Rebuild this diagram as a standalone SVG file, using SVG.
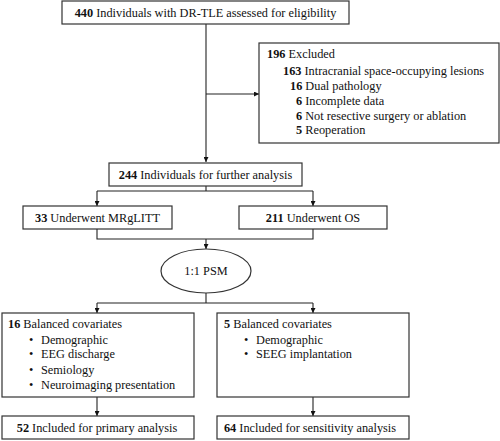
<svg xmlns="http://www.w3.org/2000/svg" width="500" height="441" viewBox="0 0 500 441">
<defs>
<marker id="ah" viewBox="0 0 10 10" refX="10" refY="5" markerWidth="5" markerHeight="5" markerUnits="userSpaceOnUse" orient="auto">
<path d="M0,0 L10,5 L0,10 Z" fill="#111"/>
</marker>
<style>
.box{fill:#fff;stroke:#333;stroke-width:1.2}
.ln{fill:none;stroke:#222;stroke-width:1.1}
text{font-family:"Liberation Serif",serif;font-size:12.3px;fill:#111}
.b{font-weight:bold}
.c{text-anchor:middle}
</style>
</defs>
<rect width="500" height="441" fill="#fff"/>
<g id="connectors">
<path class="ln" d="M206,24 V162" marker-end="url(#ah)"/>
<path class="ln" d="M206,94 H259" marker-end="url(#ah)"/>
<path class="ln" d="M206,186 V191 M97,191 H313"/>
<path class="ln" d="M97,191 V206" marker-end="url(#ah)"/>
<path class="ln" d="M313,191 V206" marker-end="url(#ah)"/>
<path class="ln" d="M97,229 V239 H313 V229"/>
<path class="ln" d="M206,239 V249" marker-end="url(#ah)"/>
<path class="ln" d="M206,293 V303 M97,303 H313"/>
<path class="ln" d="M97,303 V313" marker-end="url(#ah)"/>
<path class="ln" d="M313,303 V313" marker-end="url(#ah)"/>
<path class="ln" d="M97,397 V416" marker-end="url(#ah)"/>
<path class="ln" d="M313,397 V416" marker-end="url(#ah)"/>
</g>
<g id="n-assessed">
<rect class="box" x="62" y="1" width="287" height="23"/>
<text x="205.5" y="17" class="c"><tspan class="b">440</tspan> Individuals with DR-TLE assessed for eligibility</text>
</g>
<g id="n-excluded">
<rect class="box" x="259" y="43" width="240" height="100"/>
<text x="267" y="58"><tspan class="b">196</tspan> Excluded</text>
<text x="283" y="75"><tspan class="b">163</tspan> Intracranial space-occupying lesions</text>
<text x="290" y="90"><tspan class="b">16</tspan> Dual pathology</text>
<text x="296" y="105"><tspan class="b">6</tspan> Incomplete data</text>
<text x="296" y="120"><tspan class="b">6</tspan> Not resective surgery or ablation</text>
<text x="296" y="134"><tspan class="b">5</tspan> Reoperation</text>
</g>
<g id="n-further">
<rect class="box" x="109" y="163" width="193" height="23"/>
<text x="205.5" y="179" class="c"><tspan class="b">244</tspan> Individuals for further analysis</text>
</g>
<g id="n-mrglitt">
<rect class="box" x="23" y="206" width="149" height="23"/>
<text x="97.5" y="222" class="c"><tspan class="b">33</tspan> Underwent MRgLITT</text>
</g>
<g id="n-os">
<rect class="box" x="239" y="206" width="148" height="23"/>
<text x="313" y="222" class="c"><tspan class="b">211</tspan> Underwent OS</text>
</g>
<g id="n-psm">
<ellipse class="box" cx="206" cy="271" rx="45" ry="22"/>
<text x="206" y="275" class="c">1:1 PSM</text>
</g>
<g id="n-cov16">
<rect class="box" x="2" y="313" width="192" height="84"/>
<text x="8" y="328"><tspan class="b">16</tspan> Balanced covariates</text>
<text x="29" y="344">•</text><text x="41" y="344">Demographic</text>
<text x="29" y="358">•</text><text x="41" y="358">EEG discharge</text>
<text x="29" y="374">•</text><text x="41" y="374">Semiology</text>
<text x="29" y="389">•</text><text x="41" y="389">Neuroimaging presentation</text>
</g>
<g id="n-cov5">
<rect class="box" x="217" y="313" width="192" height="84"/>
<text x="224" y="328"><tspan class="b">5</tspan> Balanced covariates</text>
<text x="244" y="344">•</text><text x="256" y="344">Demographic</text>
<text x="244" y="358">•</text><text x="256" y="358">SEEG implantation</text>
</g>
<g id="n-primary">
<rect class="box" x="2" y="416" width="192" height="23"/>
<text x="97" y="432" class="c"><tspan class="b">52</tspan> Included for primary analysis</text>
</g>
<g id="n-sensitivity">
<rect class="box" x="217" y="416" width="192" height="23"/>
<text x="310" y="432" class="c"><tspan class="b">64</tspan> Included for sensitivity analysis</text>
</g>
</svg>
